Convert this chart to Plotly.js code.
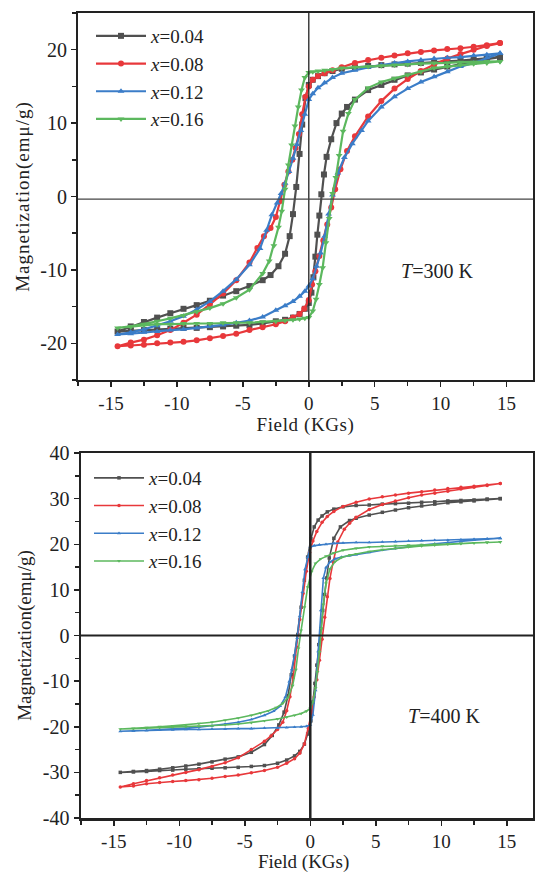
<!DOCTYPE html>
<html><head><meta charset="utf-8">
<script src="https://cdn.plot.ly/plotly-3.0.1.min.js"></script>
<style>
body{margin:0;background:#fff}
.ytitle{letter-spacing:1px}
.xtitle{letter-spacing:0.6px}
</style>
</head><body><div id="chart" style="width:535px;height:872px"></div>
<script>
// ---------- labels ----------
const seriesNames = ['<i>x</i>=0.04', '<i>x</i>=0.08', '<i>x</i>=0.12', '<i>x</i>=0.16'];
const seriesColors = ['#505050', '#e8383b', '#3b7dc8', '#5cb85e'];
const seriesSymbols = ['square', 'circle', 'triangle-up', 'triangle-down'];
const xTickVals = [-15, -10, -5, 0, 5, 10, 15];
const xTickText = ['-15', '-10', '-5', '0', '5', '10', '15'];
const topYTicks = [-20, -10, 0, 10, 20];
const topYText = ['-20', '-10', '0', '10', '20'];
const botYTicks = [-40, -30, -20, -10, 0, 10, 20, 30, 40];
const botYText = ['-40', '-30', '-20', '-10', '0', '10', '20', '30', '40'];
const xTitle = 'Field (KGs)';
const yTitle = 'Magnetization(emμ/g)';

// ---------- T = 300 K ----------
const t300_004_descH = [14.5,13.5,12.5,11.5,10.5,9.5,8.5,7.5,6.5,5.5,4.5,3.5,2.5,1.8,1.2,0.7,0.3,0,-0.25,-0.5,-0.7,-0.95,-1.2,-1.45,-1.8,-2.3,-2.9,-3.5,-4.5,-5.5,-6.5,-7.5,-8.5,-9.5,-10.5,-11.5,-12.5,-13.5,-14.5];
const t300_004_descM = [19.0,18.8,18.6,18.5,18.4,18.3,18.2,18.1,18.0,17.9,17.8,17.6,17.4,17.1,16.8,16.4,15.9,15.2,13.4,9.8,5.8,1.3,-2.4,-5.4,-7.8,-9.5,-10.7,-11.4,-12.2,-12.9,-13.5,-14.2,-14.8,-15.3,-15.9,-16.5,-17.1,-17.7,-18.4];
const t300_004_ascH = [-13.5,-12.5,-11.5,-10.5,-9.5,-8.5,-7.5,-6.5,-5.5,-4.5,-3.5,-2.5,-1.8,-1.2,-0.7,-0.3,0,0.2,0.35,0.5,0.65,0.8,0.95,1.15,1.35,1.7,2.1,2.5,2.9,3.5,4.5,5.5,6.5,7.5,8.5,9.5,10.5,11.5,12.5,13.5,14.5];
const t300_004_ascM = [-18.3,-18.2,-18.1,-18.0,-17.9,-17.9,-17.8,-17.7,-17.6,-17.5,-17.3,-17.0,-16.8,-16.5,-16.0,-15.3,-14.5,-13.1,-11.0,-8.2,-5.2,-2.6,0.3,3.0,5.4,7.8,10.0,11.3,12.2,13.2,14.5,15.2,15.9,16.5,16.9,17.3,17.7,18.0,18.4,18.7,19.0];

const t300_008_descH = [14.5,13.5,12.5,11.5,10.5,9.5,8.5,7.5,6.5,5.5,4.5,3.5,2.5,1.8,1.2,0.7,0.3,0,-0.25,-0.5,-0.75,-1.0,-1.25,-1.55,-1.85,-2.15,-2.5,-2.9,-3.4,-3.9,-4.5,-5.5,-6.5,-7.5,-8.5,-9.5,-10.5,-11.5,-12.5,-13.5,-14.5];
const t300_008_descM = [20.9,20.6,20.4,20.2,20.1,19.9,19.7,19.5,19.2,18.9,18.6,18.2,17.6,17.2,16.8,16.4,15.9,15.0,13.6,11.2,8.5,6.6,5.0,3.4,1.6,-0.6,-2.8,-4.3,-5.4,-7.0,-9.0,-11.4,-13.2,-14.7,-16.1,-17.2,-18.2,-18.9,-19.5,-19.9,-20.4];
const t300_008_ascH = [-13.5,-12.5,-11.5,-10.5,-9.5,-8.5,-7.5,-6.5,-5.5,-4.5,-3.5,-2.5,-1.8,-1.2,-0.7,-0.35,0,0.25,0.5,0.8,1.1,1.4,1.7,2.0,2.4,2.9,3.5,4.5,5.5,6.5,7.5,8.5,9.5,10.5,11.5,12.5,13.5,14.5];
const t300_008_ascM = [-20.3,-20.2,-20.0,-19.9,-19.8,-19.6,-19.3,-19.0,-18.7,-18.2,-17.8,-17.4,-17.0,-16.5,-16.0,-15.3,-14.1,-12.0,-10.2,-8.1,-6.0,-3.8,-1.5,1.0,3.7,6.2,8.2,10.9,13.0,14.7,16.0,17.1,18.0,18.8,19.4,20.0,20.5,20.9];

const t300_012_descH = [14.5,13.5,12.5,11.5,10.5,9.5,8.5,7.5,6.5,5.5,4.5,3.5,2.5,1.8,1.2,0.7,0.3,0,-0.3,-0.6,-0.9,-1.2,-1.5,-1.8,-2.1,-2.4,-2.8,-3.2,-3.7,-4.5,-5.5,-6.5,-7.5,-8.5,-9.5,-10.5,-11.5,-12.5,-13.5,-14.5];
const t300_012_descM = [19.5,19.3,19.2,19.0,18.9,18.8,18.6,18.4,18.2,17.9,17.6,17.2,16.8,16.2,15.5,14.8,14.0,13.2,11.2,9.0,7.1,5.2,3.4,1.8,0.4,-0.9,-2.5,-4.6,-7.1,-9.3,-11.3,-12.9,-14.3,-15.4,-16.3,-17.0,-17.6,-18.1,-18.5,-18.8];
const t300_012_ascH = [-13.5,-12.5,-11.5,-10.5,-9.5,-8.5,-7.5,-6.5,-5.5,-4.5,-3.5,-2.5,-1.8,-1.2,-0.7,-0.3,0,0.3,0.6,0.9,1.2,1.5,1.8,2.2,2.7,3.3,4.0,4.5,5.5,6.5,7.5,8.5,9.5,10.5,11.5,12.5,13.5,14.5];
const t300_012_ascM = [-18.7,-18.5,-18.4,-18.2,-18.1,-17.9,-17.7,-17.5,-17.2,-16.9,-16.4,-15.5,-14.9,-14.3,-13.6,-12.9,-12.2,-11.2,-9.5,-7.7,-5.4,-2.4,0.2,3.2,5.3,7.2,9.0,10.3,12.2,13.6,14.7,15.6,16.3,17.0,17.7,18.2,18.9,19.5];

const t300_016_descH = [14.5,13.5,12.5,11.5,10.5,9.5,8.5,7.5,6.5,5.5,4.5,3.5,2.5,1.8,1.2,0.7,0.3,0,-0.3,-0.55,-0.8,-1.05,-1.3,-1.55,-1.8,-2.05,-2.3,-2.65,-3.0,-3.5,-4.5,-5.5,-6.5,-7.5,-8.5,-9.5,-10.5,-11.5,-12.5,-13.5,-14.5];
const t300_016_descM = [18.4,18.4,18.3,18.3,18.2,18.2,18.1,18.0,17.9,17.8,17.7,17.6,17.5,17.3,17.2,17.1,17.0,16.9,16.2,14.5,12.2,9.6,7.0,4.3,1.0,-2.0,-4.2,-6.7,-8.8,-10.5,-12.7,-13.8,-14.6,-15.2,-15.7,-16.2,-16.6,-17.0,-17.4,-17.7,-17.9];
const t300_016_ascH = [-13.5,-12.5,-11.5,-10.5,-9.5,-8.5,-7.5,-6.5,-5.5,-4.5,-3.5,-2.5,-1.8,-1.2,-0.7,-0.3,0,0.3,0.55,0.8,1.05,1.3,1.55,1.8,2.05,2.3,2.6,3.0,3.5,4.5,5.5,6.5,7.5,8.5,9.5,10.5,11.5,12.5,13.5,14.5];
const t300_016_ascM = [-17.7,-17.5,-17.4,-17.4,-17.3,-17.3,-17.3,-17.2,-17.2,-17.2,-17.1,-17.0,-16.9,-16.8,-16.7,-16.6,-16.5,-15.6,-14.0,-12.0,-9.7,-6.3,-3.0,0.4,2.6,5.6,8.9,11.3,13.2,14.8,15.6,16.1,16.6,17.0,17.5,17.7,17.9,18.1,18.2,18.4];

// ---------- T = 400 K ----------
const t400_004_descH = [14.5,13.5,12.5,11.5,10.5,9.5,8.5,7.5,6.5,5.5,4.5,3.5,2.5,1.8,1.3,0.9,0.6,0.3,0.05,-0.2,-0.45,-0.7,-0.95,-1.2,-1.45,-1.7,-2.0,-2.4,-2.9,-3.5,-4.5,-5.5,-6.5,-7.5,-8.5,-9.5,-10.5,-11.5,-12.5,-13.5,-14.5];
const t400_004_descM = [30.0,29.9,29.7,29.6,29.5,29.3,29.2,29.0,28.9,28.8,28.6,28.5,28.2,27.7,27.1,26.2,25.3,23.8,21.2,17.2,12.1,6.2,0.2,-4.5,-8.6,-13.2,-16.8,-19.6,-21.9,-23.9,-25.6,-26.6,-27.1,-27.7,-28.2,-28.6,-29.0,-29.3,-29.6,-29.8,-30.0];
const t400_004_ascH = [-13.5,-12.5,-11.5,-10.5,-9.5,-8.5,-7.5,-6.5,-5.5,-4.5,-3.5,-2.5,-1.8,-1.2,-0.8,-0.45,-0.2,0.05,0.2,0.35,0.5,0.65,0.8,0.95,1.1,1.25,1.45,1.8,2.3,3.0,3.5,4.5,5.5,6.5,7.5,8.5,9.5,10.5,11.5,12.5,13.5,14.5];
const t400_004_ascM = [-29.9,-29.8,-29.6,-29.5,-29.3,-29.2,-29.1,-29.0,-28.9,-28.7,-28.5,-28.0,-27.3,-26.4,-25.4,-23.8,-21.6,-18.7,-14.6,-10.5,-6.5,-2.0,1.5,5.5,9.0,12.6,17.0,21.3,23.8,25.2,25.7,26.4,27.0,27.5,28.0,28.4,28.8,29.1,29.3,29.5,29.8,30.0];

const t400_008_descH = [14.5,13.5,12.5,11.5,10.5,9.5,8.5,7.5,6.5,5.5,4.5,3.5,2.5,1.8,1.3,0.9,0.5,0.2,-0.05,-0.3,-0.55,-0.8,-1.05,-1.3,-1.55,-1.8,-2.1,-2.5,-3.0,-3.5,-4.5,-5.5,-6.5,-7.5,-8.5,-9.5,-10.5,-11.5,-12.5,-13.5,-14.5];
const t400_008_descM = [33.3,33.0,32.7,32.5,32.2,31.9,31.5,31.2,30.8,30.4,29.9,29.2,28.3,27.2,26.1,24.8,22.8,20.7,18.2,14.1,9.2,3.5,-2.5,-9.2,-13.4,-16.5,-19.0,-20.6,-22.0,-23.2,-25.0,-26.8,-27.9,-28.7,-29.4,-30.0,-30.6,-31.2,-31.8,-32.5,-33.2];
const t400_008_ascH = [-13.5,-12.5,-11.5,-10.5,-9.5,-8.5,-7.5,-6.5,-5.5,-4.5,-3.5,-2.5,-1.8,-1.2,-0.8,-0.45,-0.15,0.1,0.3,0.5,0.7,0.9,1.1,1.3,1.5,1.75,2.1,2.6,3.0,3.5,4.5,5.5,6.5,7.5,8.5,9.5,10.5,11.5,12.5,13.5,14.5];
const t400_008_ascM = [-33.0,-32.5,-32.2,-32.0,-31.8,-31.6,-31.3,-30.9,-30.6,-30.1,-29.6,-28.9,-28.0,-27.0,-25.8,-23.8,-20.4,-17.0,-13.5,-9.7,-5.4,-0.8,4.0,8.5,12.5,16.2,20.5,23.3,24.6,25.9,27.6,28.7,29.5,30.2,30.8,31.2,31.6,32.1,32.5,32.9,33.3];

const t400_012_descH = [14.5,13.5,12.5,11.5,10.5,9.5,8.5,7.5,6.5,5.5,4.5,3.5,2.5,1.8,1.2,0.7,0.3,0,-0.2,-0.4,-0.6,-0.8,-1.0,-1.2,-1.4,-1.6,-1.9,-2.3,-2.8,-3.5,-4.5,-5.5,-6.5,-7.5,-8.5,-9.5,-10.5,-11.5,-12.5,-13.5,-14.5];
const t400_012_descM = [21.3,21.2,21.1,21.0,20.9,20.9,20.8,20.7,20.6,20.5,20.4,20.4,20.3,20.2,20.0,19.9,19.7,19.4,17.2,14.5,9.5,4.3,-0.6,-4.2,-7.4,-10.1,-13.5,-15.5,-16.6,-17.5,-18.4,-19.0,-19.4,-19.8,-20.1,-20.3,-20.5,-20.7,-20.8,-20.9,-21.0];
const t400_012_ascH = [-13.5,-12.5,-11.5,-10.5,-9.5,-8.5,-7.5,-6.5,-5.5,-4.5,-3.5,-2.5,-1.8,-1.2,-0.7,-0.3,0,0.2,0.4,0.6,0.8,1.0,1.2,1.5,1.9,2.4,3.0,3.5,4.5,5.5,6.5,7.5,8.5,9.5,10.5,11.5,12.5,13.5,14.5];
const t400_012_ascM = [-20.9,-20.8,-20.7,-20.7,-20.6,-20.6,-20.5,-20.5,-20.4,-20.4,-20.3,-20.3,-20.2,-20.1,-20.0,-19.9,-19.6,-17.4,-12.0,-3.5,5.5,12.6,14.9,16.1,16.8,17.2,17.5,17.7,18.2,18.7,19.1,19.5,19.8,20.1,20.4,20.6,20.9,21.1,21.3];

const t400_016_descH = [14.5,13.5,12.5,11.5,10.5,9.5,8.5,7.5,6.5,5.5,4.5,3.5,2.5,1.8,1.2,0.8,0.4,0.1,-0.2,-0.45,-0.7,-0.9,-1.1,-1.35,-1.7,-2.1,-2.6,-3.2,-3.8,-4.5,-5.5,-6.5,-7.5,-8.5,-9.5,-10.5,-11.5,-12.5,-13.5,-14.5];
const t400_016_descM = [20.5,20.4,20.3,20.2,20.1,20.0,19.9,19.8,19.7,19.6,19.4,19.1,18.7,18.1,17.4,16.8,15.8,14.0,10.6,6.2,1.1,-2.8,-7.5,-11.0,-13.6,-14.9,-15.8,-16.5,-17.0,-17.5,-18.1,-18.6,-19.0,-19.3,-19.6,-19.8,-20.0,-20.2,-20.4,-20.5];
const t400_016_ascH = [-13.5,-12.5,-11.5,-10.5,-9.5,-8.5,-7.5,-6.5,-5.5,-4.5,-3.5,-2.5,-1.8,-1.2,-0.7,-0.3,0,0.2,0.4,0.55,0.7,0.85,1.0,1.2,1.5,1.9,2.4,3.0,3.5,4.5,5.5,6.5,7.5,8.5,9.5,10.5,11.5,12.5,13.5,14.5];
const t400_016_ascM = [-20.4,-20.3,-20.2,-20.1,-20.0,-19.9,-19.8,-19.6,-19.4,-19.1,-18.7,-18.3,-17.9,-17.5,-17.1,-16.6,-16.0,-14.6,-11.5,-8.0,-3.6,1.5,6.8,11.4,14.6,16.2,17.1,17.6,17.9,18.4,18.8,19.1,19.4,19.6,19.8,20.0,20.1,20.3,20.4,20.5];

// ---------- build traces ----------
const topSets = [
  [t300_004_descH, t300_004_descM, t300_004_ascH, t300_004_ascM],
  [t300_008_descH, t300_008_descM, t300_008_ascH, t300_008_ascM],
  [t300_012_descH, t300_012_descM, t300_012_ascH, t300_012_ascM],
  [t300_016_descH, t300_016_descM, t300_016_ascH, t300_016_ascM]
];
const botSets = [
  [t400_004_descH, t400_004_descM, t400_004_ascH, t400_004_ascM],
  [t400_008_descH, t400_008_descM, t400_008_ascH, t400_008_ascM],
  [t400_012_descH, t400_012_descM, t400_012_ascH, t400_012_ascM],
  [t400_016_descH, t400_016_descM, t400_016_ascH, t400_016_ascM]
];
const traces = [];
topSets.forEach((s, i) => {
  traces.push({
    x: s[0].concat(s[2]), y: s[1].concat(s[3]),
    xaxis: 'x', yaxis: 'y', legend: 'legend',
    type: 'scatter', mode: 'lines+markers', name: seriesNames[i],
    line: {color: seriesColors[i], width: 2.2},
    marker: {symbol: seriesSymbols[i], size: 6, color: seriesColors[i]}
  });
});
botSets.forEach((s, i) => {
  traces.push({
    x: s[0].concat(s[2]), y: s[1].concat(s[3]),
    xaxis: 'x2', yaxis: 'y2', legend: 'legend2',
    type: 'scatter', mode: 'lines+markers', name: seriesNames[i],
    line: {color: seriesColors[i], width: 1.6},
    marker: {symbol: seriesSymbols[i], size: 3.5, color: seriesColors[i]}
  });
});

const F = 'Liberation Serif, Times New Roman, serif';
function xax(domain, anchor, lw, withTitle) {
  const ax = {
    domain: domain, anchor: anchor, range: [-17.5, 17], tickvals: xTickVals, ticktext: xTickText,
    ticks: 'outside', ticklen: 5, tickwidth: 1.5, tickcolor: '#222',
    minor: {dtick: 2.5, ticks: 'outside', ticklen: 4, tickwidth: 1.5, tickcolor: '#222'},
    showline: true, mirror: true, linecolor: '#222', linewidth: lw,
    showgrid: false, zeroline: false,
    tickfont: {family: F, size: 19, color: '#222'}
  };
  if (withTitle) ax.title = {text: xTitle, font: {family: F, size: 19, color: '#222'}, standoff: 0};
  return ax;
}
function yax(domain, anchor, range, tv, tt, lw) {
  return {
    domain: domain, anchor: anchor, range: range, tickvals: tv, ticktext: tt,
    ticks: 'outside', ticklen: 5, tickwidth: 1.5, tickcolor: '#222',
    minor: {dtick: 5, ticks: 'outside', ticklen: 4, tickwidth: 1.5, tickcolor: '#222'},
    showline: true, mirror: true, linecolor: '#222', linewidth: lw,
    showgrid: false, zeroline: false,
    tickfont: {family: F, size: 20, color: '#222'},
    title: {text: yTitle, font: {family: F, size: 19, color: '#222'}, standoff: 6}
  };
}

const layout = {
  width: 535, height: 872, margin: {l: 0, r: 0, t: 0, b: 0},
  paper_bgcolor: '#fff', plot_bgcolor: '#fff', showlegend: true,
  xaxis: xax([78/535, 533/535], 'y', 2, true),
  yaxis: yax([1 - 380/872, 1 - 13/872], 'x', [-25, 25], topYTicks, topYText, 2),
  xaxis2: xax([81/535, 533/535], 'y2', 2.5, false),
  yaxis2: yax([1 - 818/872, 1 - 453/872], 'x2', [-40, 40], botYTicks, botYText, 2.5),
  legend: {x: 91/535, y: 1 - 17/872, xanchor: 'left', yanchor: 'top', bgcolor: 'rgba(0,0,0,0)',
           font: {family: F, size: 19, color: '#222'}, itemwidth: 50, tracegroupgap: 0},
  legend2: {x: 89/535, y: 1 - 459/872, xanchor: 'left', yanchor: 'top', bgcolor: 'rgba(0,0,0,0)',
           font: {family: F, size: 19, color: '#222'}, itemwidth: 50, tracegroupgap: 0},
  shapes: [
    {type: 'line', xref: 'x', yref: 'y domain', x0: 0, x1: 0, y0: 0, y1: 1, line: {color: '#222', width: 1.3}},
    {type: 'line', xref: 'x domain', yref: 'y', x0: 0, x1: 1, y0: -0.35, y1: -0.35, line: {color: '#444', width: 1.3}},
    {type: 'line', xref: 'x2', yref: 'y2 domain', x0: 0, x1: 0, y0: 0, y1: 1, line: {color: '#222', width: 2.5}},
    {type: 'line', xref: 'x2 domain', yref: 'y2', x0: 0, x1: 1, y0: 0, y1: 0, line: {color: '#222', width: 2}}
  ],
  annotations: [
    {xref: 'x', yref: 'y', x: 9.7, y: -10.2, text: '<i>T</i>=300 K', showarrow: false,
     font: {family: F, size: 20, color: '#222'}},
    {xref: 'x2', yref: 'y2', x: 10.2, y: -17.6, text: '<i>T</i>=400 K', showarrow: false,
     font: {family: F, size: 20, color: '#222'}},
    {xref: 'x2', yref: 'paper', x: -0.5, y: 0, xanchor: 'center', yanchor: 'bottom', yshift: -3,
     text: xTitle, showarrow: false, font: {family: F, size: 19, color: '#222'}}
  ]
};

Plotly.newPlot('chart', traces, layout, {displayModeBar: false, staticPlot: true});
</script>
</body></html>
